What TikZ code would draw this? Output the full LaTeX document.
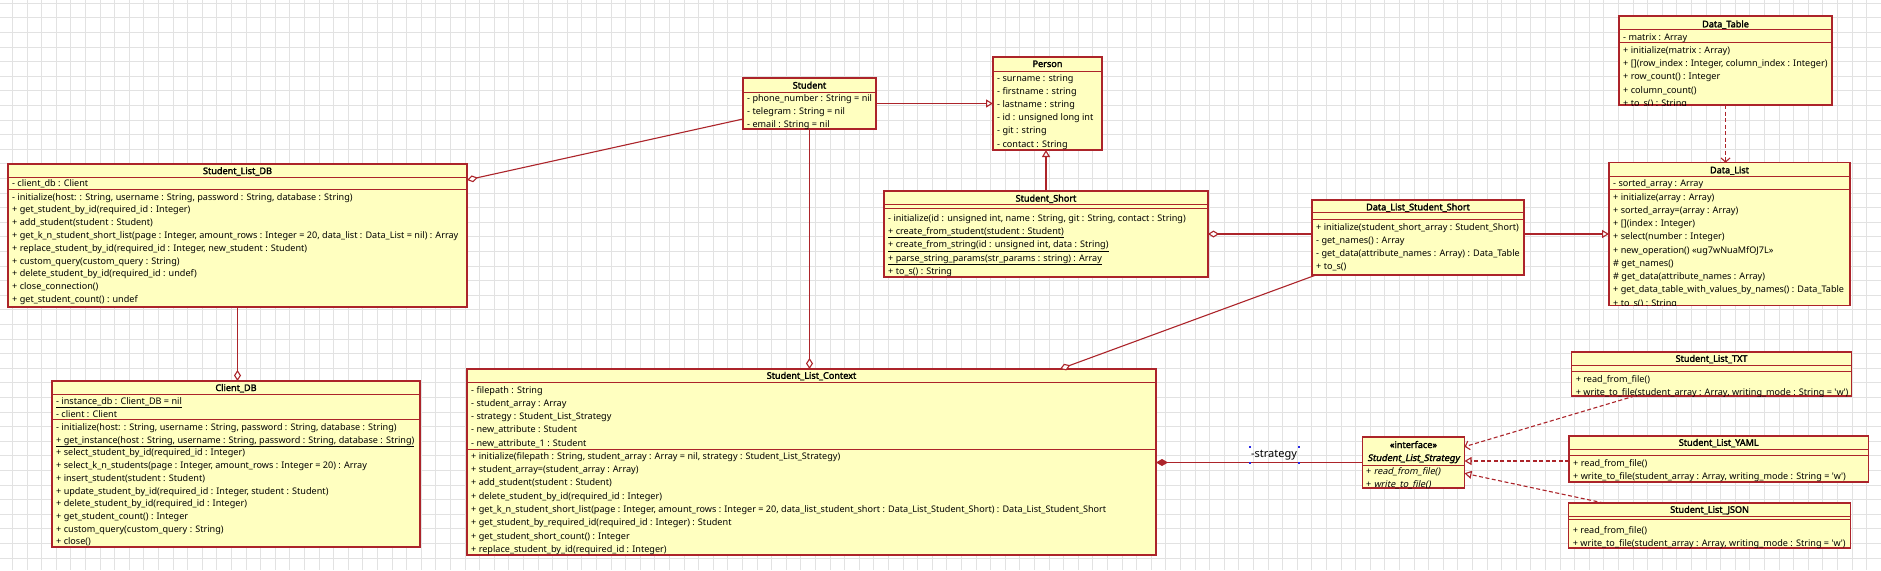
\documentclass[tikz,border=0pt]{standalone}
\usepackage{fontspec}
\setmainfont{Noto Sans}[AutoFakeBold=2.2,AutoFakeSlant=0.2]
\usetikzlibrary{arrows.meta,calc}
\definecolor{boxfill}{RGB}{255,255,192}
\definecolor{boxline}{RGB}{172,36,42}
\definecolor{gridc}{RGB}{226,226,226}
\definecolor{handle}{RGB}{40,40,230}
\newcommand\umlbox[5]{\node[classbox, anchor=north west, minimum width={(#4-#2)*1pt}, minimum height={(#5-#3)*1pt}] (#1) at (#2,#3) {};}
\newcommand\sepl[3]{\draw[sepline] (#1,#3) -- (#2,#3);}
\newcommand\ttl[3]{\node[titletext] at (#1,{#2+3.3}) {#3};}
\newcommand\rows[4]{\foreach \rowtxt [count=\rowidx from 0] in {#4} {\node[rowtext] at (#1,{#2+\rowidx*#3+3.3}) {\rowtxt};}}
\catcode`\_=12
\begin{document}
\begin{tikzpicture}[x=1pt,y=-1pt,
  classbox/.style={draw=boxline, fill=boxfill, line width=1.2pt, inner sep=0pt, outer sep=0pt},
  sepline/.style={draw=boxline, line width=1pt},
  rowtext/.style={anchor=base west, inner sep=0pt, font=\fontsize{9.1}{11}\selectfont},
  titletext/.style={anchor=base, inner sep=0pt, font=\fontsize{9.1}{11}\selectfont\bfseries},
  conn/.style={draw=boxline, line width=1.1pt},
  dep/.style={conn, dash pattern=on 4pt off 2.5pt},
  gentip/.style={-{Triangle[length=7pt,width=8pt,fill=white]}},
  agg/.style={-{Diamond[length=11pt,width=7pt,fill=white]}},
  aggstart/.style={{Diamond[length=11pt,width=7pt,fill=white]}-},
  compstart/.style={{Diamond[length=12pt,width=7pt,fill=boxline]}-},
  opentip/.style={-{Straight Barb[length=4pt,width=9pt]}}
]
\useasboundingbox (0,0) rectangle (1881,570);
\fill[white] (0,0) rectangle (1881,570);
\foreach \gx in {0,...,128} \draw[gridc, line width=0.8pt] ({12.4+\gx*14.6},0) -- ({12.4+\gx*14.6},570);
\foreach \gy in {0,...,39} \draw[gridc, line width=0.8pt] (0,{3.2+\gy*14.6}) -- (1881,{3.2+\gy*14.6});

% ---------- boxes ----------
\umlbox{sldb}{8}{164}{467}{307}
\umlbox{clientdb}{52}{381}{420}{547}
\umlbox{student}{743}{78}{876}{129}
\umlbox{person}{993}{57}{1102}{150}
\umlbox{sshort}{884}{191}{1208}{277}
\umlbox{dlss}{1312}{200}{1524}{275}
\umlbox{datalist}{1609}{162.7}{1850}{305.7}
\umlbox{datatable}{1619}{16}{1832}{105}
\umlbox{context}{467}{369}{1156}{555}
\umlbox{strategy}{1362.4}{437}{1464.5}{488}
\umlbox{txt}{1571.6}{352}{1851.4}{396}
\umlbox{yaml}{1569}{436}{1868.4}{482}
\umlbox{json}{1568.7}{503}{1850.6}{548}

% ---------- separators ----------
\sepl{8}{467}{177.7}\sepl{8}{467}{189.3}
\sepl{52}{420}{394}\sepl{52}{420}{419}
\sepl{743}{876}{92}
\sepl{993}{1102}{71}
\sepl{884}{1208}{204}\sepl{884}{1208}{208}
\sepl{1312}{1524}{212.3}\sepl{1312}{1524}{219}
\sepl{1609}{1850}{176}\sepl{1609}{1850}{189.3}
\sepl{1619}{1832}{29.3}\sepl{1619}{1832}{42.7}
\sepl{467}{1156}{382}\sepl{467}{1156}{449}
\sepl{1362.4}{1464.5}{465}
\sepl{1571.6}{1851.4}{365}\sepl{1571.6}{1851.4}{371}
\sepl{1569}{1868.4}{449}\sepl{1569}{1868.4}{455}
\sepl{1568.7}{1850.6}{516}\sepl{1568.7}{1850.6}{519}

% ---------- connectors ----------
\draw[conn, gentip] (student.east) -- (person.west);
\draw[conn, aggstart] ($(sldb.north east)+(0,16)$) -- ($(student.south west)+(0,-10)$);
\draw[conn, agg] (student.south) -- (student.south |- context.north);
\draw[conn, gentip] (sshort.north) -- (sshort.north |- person.south);
\draw[conn, aggstart] (sshort.east) -- (sshort.east -| dlss.west);
\draw[conn, gentip] (sshort.east -| dlss.east) -- (sshort.east -| datalist.west);
\draw[dep, opentip] (datatable.south) -- (datatable.south |- datalist.north);
\draw[conn, agg] ($(dlss.south west)+(4,0)$) -- ($(context.north west)+(593,0)$);
\draw[conn, agg] (sldb.south) -- (sldb.south |- clientdb.north);
\draw[conn, compstart] (context.east |- strategy.west) -- (strategy.west);
\draw[dep, opentip] ($(txt.south west)+(63,0)$) -- ($(strategy.north east)+(0,9.7)$);
\draw[dep, gentip] ($(yaml.west)+(0,2)$) -- ($(strategy.east)+(0,-1.5)$);
\draw[dep, gentip] ($(json.north west)+(35,0)$) -- ($(strategy.north east)+(0,36.3)$);
\node[inner sep=0pt, font=\fontsize{11}{13}\selectfont] (stratlbl) at (1274,455.5) {-strategy};
\foreach \hx/\hy in {1250/446.7,1298.5/446.7,1250/462.7,1298.5/462.7} \fill[handle] ({\hx-1},{\hy-1}) rectangle ++(2,2);

% ---------- texts ----------
\ttl{237.5}{170.8}{Student_List_DB}
\begin{scope}\clip (8,164) rectangle (467,307);
\rows{12}{183.3}{12.8}{{- client_db : Client}}
\rows{12}{196.7}{12.8}{{- initialize(host: : String, username : String, password : String, database : String)},
 {+ get_student_by_id(required_id : Integer)},
 {+ add_student(student : Student)},
 {+ get_k_n_student_short_list(page : Integer, amount_rows : Integer = 20, data_list : Data_List = nil) : Array},
 {+ replace_student_by_id(required_id : Integer, new_student : Student)},
 {+ custom_query(custom_query : String)},
 {+ delete_student_by_id(required_id : undef)},
 {+ close_connection()},
 {+ get_student_count() : undef}}
\end{scope}

\ttl{236}{387.7}{Client_DB}
\begin{scope}\clip (52,381) rectangle (420,547);
\rows{56}{400.7}{13}{{\underline{- instance_db : Client_DB = nil}},{- client : Client}}
\rows{56}{427}{12.74}{{- initialize(host: : String, username : String, password : String, database : String)},
 {\underline{+ get_instance(host : String, username : String, password : String, database : String)}},
 {+ select_student_by_id(required_id : Integer)},
 {+ select_k_n_students(page : Integer, amount_rows : Integer = 20) : Array},
 {+ insert_student(student : Student)},
 {+ update_student_by_id(required_id : Integer, student : Student)},
 {+ delete_student_by_id(required_id : Integer)},
 {+ get_student_count() : Integer},
 {+ custom_query(custom_query : String)},
 {+ close()}}
\end{scope}

\ttl{809.5}{85.3}{Student}
\rows{747}{98}{12.85}{{- phone_number : String = nil},{- telegram : String = nil},{- email : String = nil}}

\ttl{1047.5}{63.7}{Person}
\rows{997}{77.7}{13.2}{{- surname : string},{- firstname : string},{- lastname : string},{- id : unsigned long int},{- git : string},{- contact : String}}

\ttl{1046}{198.3}{Student_Short}
\rows{888}{218}{13.25}{{- initialize(id : unsigned int, name : String, git : String, contact : String)},
 {\underline{+ create_from_student(student : Student)}},
 {\underline{+ create_from_string(id : unsigned int, data : String)}},
 {\underline{+ parse_string_params(str_params : string) : Array}},
 {+ to_s() : String}}

\ttl{1418}{207}{Data_List_Student_Short}
\begin{scope}\clip (1312,200) rectangle (1524,275);
\rows{1316}{227}{13}{{+ initialize(student_short_array : Student_Short)},{- get_names() : Array},{- get_data(attribute_names : Array) : Data_Table},{+ to_s()}}
\end{scope}

\ttl{1729.5}{170}{Data_List}
\begin{scope}\clip (1609,162.7) rectangle (1850,305.7);
\rows{1613}{183}{13}{{- sorted_array : Array}}
\rows{1613}{196.7}{13.25}{{+ initialize(array : Array)},{+ sorted_array=(array : Array)},{+ [](index : Integer)},{+ select(number : Integer)},{+ new_operation() «ug7wNuaMfOJ7L»},{\# get_names()},{\# get_data(attribute_names : Array)},{+ get_data_table_with_values_by_names() : Data_Table},{+ to_s() : String}}
\end{scope}

\ttl{1725.5}{24}{Data_Table}
\begin{scope}\clip (1619,16) rectangle (1832,105);
\rows{1623}{36.7}{13}{{- matrix : Array}}
\rows{1623}{50}{13.3}{{+ initialize(matrix : Array)},{+ [](row_index : Integer, column_index : Integer)},{+ row_count() : Integer},{+ column_count()},{+ to_s() : String}}
\end{scope}

\ttl{811.5}{375.5}{Student_List_Context}
\begin{scope}\clip (467,369) rectangle (1156,555);
\rows{471}{390}{13.2}{{- filepath : String},{- student_array : Array},{- strategy : Student_List_Strategy},{- new_attribute : Student},{- new_attribute_1 : Student}}
\rows{471}{455.7}{13.37}{{+ initialize(filepath : String, student_array : Array = nil, strategy : Student_List_Strategy)},
 {+ student_array=(student_array : Array)},
 {+ add_student(student : Student)},
 {+ delete_student_by_id(required_id : Integer)},
 {+ get_k_n_student_short_list(page : Integer, amount_rows : Integer = 20, data_list_student_short : Data_List_Student_Short) : Data_List_Student_Short},
 {+ get_student_by_required_id(required_id : Integer) : Student},
 {+ get_student_short_count() : Integer},
 {+ replace_student_by_id(required_id : Integer)}}
\end{scope}

\ttl{1413.45}{444.7}{«interface»}
\ttl{1413.45}{457.7}{\itshape Student_List_Strategy}
\begin{scope}\clip (1362.4,437) rectangle (1464.5,488);
\rows{1366}{471}{13.3}{{+ \textit{read_from_file()}},{+ \textit{write_to_file()}}}
\end{scope}

\ttl{1711.5}{358.5}{Student_List_TXT}
\begin{scope}\clip (1571.6,352) rectangle (1851.4,396);
\rows{1575.6}{378.7}{13}{{+ read_from_file()},{+ write_to_file(student_array : Array, writing_mode : String = \textquotesingle w\textquotesingle)}}
\end{scope}

\ttl{1718.7}{442.5}{Student_List_YAML}
\begin{scope}\clip (1569,436) rectangle (1868.4,482);
\rows{1573}{462.7}{13.3}{{+ read_from_file()},{+ write_to_file(student_array : Array, writing_mode : String = \textquotesingle w\textquotesingle)}}
\end{scope}

\ttl{1709.6}{509.5}{Student_List_JSON}
\begin{scope}\clip (1568.7,503) rectangle (1850.6,548);
\rows{1572.7}{529.7}{13.8}{{+ read_from_file()},{+ write_to_file(student_array : Array, writing_mode : String = \textquotesingle w\textquotesingle)}}
\end{scope}
\end{tikzpicture}
\end{document}
